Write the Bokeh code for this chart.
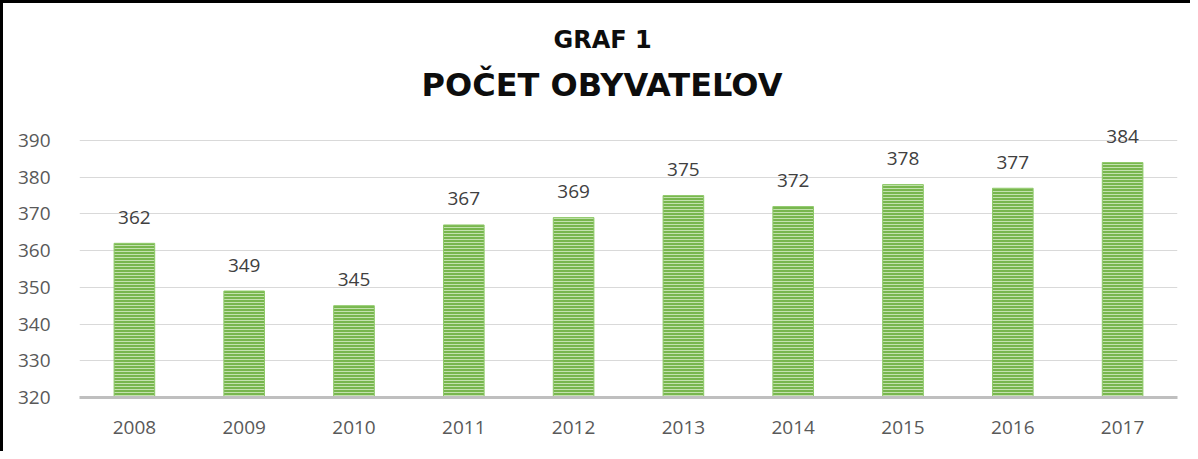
from bokeh.plotting import figure
from bokeh.models import ColumnDataSource, Range1d, LabelSet, Title, FixedTicker
from bokeh.core.properties import value
from bokeh.embed import file_html
from bokeh.resources import INLINE

years = ["2008", "2009", "2010", "2011", "2012", "2013", "2014", "2015", "2016", "2017"]
population = [362, 349, 345, 367, 369, 375, 372, 378, 377, 384]
y_ticks = [320, 330, 340, 350, 360, 370, 380, 390]
title_top = "GRAF 1"
title_main = "POČET OBYVATEĽOV"

src = ColumnDataSource(dict(x=years, y=population, lbl=[str(v) for v in population]))

p = figure(x_range=years, y_range=Range1d(320, 396), width=1190, height=451,
           output_backend="svg", toolbar_location=None, title=None,
           min_border_left=76, min_border_right=16, min_border_top=115, min_border_bottom=57)
p.styles = {"border-top": "3px solid black", "border-left": "3px solid black", "box-sizing": "border-box"}

p.vbar(x="x", top="y", bottom=320, width=0.37, source=src,
       fill_color="#78B64E", line_color="#8FC96A", line_width=1,
       hatch_pattern="horizontal_line", hatch_color="#C3E2AE", hatch_scale=3, hatch_weight=1)

labels = LabelSet(x="x", y="y", text="lbl", source=src, text_align="center", text_baseline="middle",
                  y_offset=26, text_font=value("Open Sans"), text_font_size="19px", text_color="#404040")
p.add_layout(labels)

p.add_layout(Title(text=title_main, align="left", text_font="DejaVu Sans", text_font_size="32px",
                   text_font_style="bold", text_color="#0D0D0D", standoff=29, offset=342), "above")
p.add_layout(Title(text=title_top, align="left", text_font="DejaVu Sans", text_font_size="24px",
                   text_font_style="bold", text_color="#0D0D0D", standoff=-9, offset=474), "above")

p.outline_line_color = None
p.xgrid.grid_line_color = None
p.ygrid.grid_line_color = "#D9D9D9"
p.ygrid.grid_line_width = 1
p.yaxis.ticker = FixedTicker(ticks=y_ticks)
p.yaxis.axis_line_color = None
p.yaxis.major_tick_line_color = None
p.yaxis.minor_tick_line_color = None
p.yaxis.major_label_standoff = 23
p.yaxis.major_label_text_font = "Open Sans"
p.yaxis.major_label_text_font_size = "19px"
p.yaxis.major_label_text_color = "#595959"
p.xaxis.axis_line_color = "#BFBFBF"
p.xaxis.axis_line_width = 3
p.xaxis.major_tick_line_color = None
p.xaxis.minor_tick_line_color = None
p.xaxis.major_label_standoff = 17
p.xaxis.major_label_text_font = "Open Sans"
p.xaxis.major_label_text_font_size = "19px"
p.xaxis.major_label_text_color = "#595959"
p.x_range.range_padding = 0
p.background_fill_color = "white"

open("out.html", "w").write(file_html(p, INLINE))
